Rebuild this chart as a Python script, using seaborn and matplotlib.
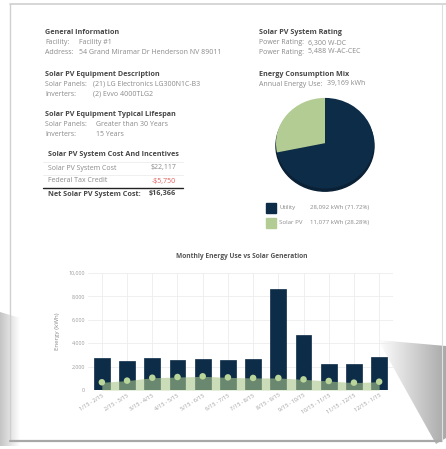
import matplotlib
matplotlib.use("Agg")

import matplotlib.pyplot as plt
import numpy as np
import seaborn as sns
from matplotlib.patches import Polygon, Rectangle, Ellipse

NAVY = "#0d2c47"
GREEN = "#b3cc93"
AREA_GREEN = "#a9c78a"
DOT_GREEN = "#b9d59a"
HEAD = "#474747"
BODY = "#8a8a8a"
RED = "#e06060"
FONT = ["Open Sans", "DejaVu Sans"]

# chart data
months = ["1/15 - 2/15", "2/15 - 3/15", "3/15 - 4/15", "4/15 - 5/15", "5/15 - 6/15",
          "6/15 - 7/15", "7/15 - 8/15", "8/15 - 9/15", "9/15 - 10/15", "10/15 - 11/15",
          "11/15 - 12/15", "12/15 - 1/15"]
energy_use = [2710, 2500, 2710, 2590, 2680, 2590, 2680, 8600, 4730, 2200, 2200, 2800]
solar_gen = [660, 800, 1050, 1110, 1170, 1080, 1030, 1030, 910, 770, 630, 710]
y_ticks = [0, 2000, 4000, 6000, 8000, 10000]

mix_labels = ["Utility", "Solar PV"]
mix_values = [28092, 11077]
mix_text = ["28,092 kWh (71.72%)", "11,077 kWh (28.28%)"]

W, H = 446, 449

sns.set_theme(style="whitegrid")
plt.rcParams["font.family"] = FONT

fig = plt.figure(figsize=(W / 100, H / 100), dpi=100)
fig.patch.set_facecolor("white")

# page overlay in pixel coords
page = fig.add_axes([0, 0, 1, 1], zorder=0)
page.set_xlim(0, W)
page.set_ylim(H, 0)
page.axis("off")


def gradient_poly(ax, verts, dark, light, reverse=False, z=1):
    poly = Polygon(verts, closed=True, facecolor="none", edgecolor="none")
    ax.add_patch(poly)
    xs = [v[0] for v in verts]
    ys = [v[1] for v in verts]
    g = np.linspace(0, 1, 200)
    if reverse:
        g = g[::-1]
    img = g[None, :]
    d = np.array(matplotlib.colors.to_rgb(dark))
    l = np.array(matplotlib.colors.to_rgb(light))
    rgb = l[None, None, :] * (1 - img[..., None]) + d[None, None, :] * img[..., None]
    im = ax.imshow(rgb, extent=(min(xs), max(xs), max(ys), min(ys)),
                   aspect="auto", zorder=z, interpolation="bilinear")
    im.set_clip_path(poly)


# shadow wings behind the chart
gradient_poly(page, [(0, 312), (20, 318), (20, 446), (0, 446)],
              "#c4c4c4", "#ffffff", reverse=True, z=1)
gradient_poly(page, [(378, 340), (446, 346), (446, 438), (436, 444)],
              "#a9a9a9", "#ffffff", z=1)

# card edges
page.plot([10, 446], [4, 4], color="#cfcfcf", lw=1.2, zorder=2)
page.plot([10, 10], [4, 441], color="#d0d0d0", lw=1.0, zorder=2)
page.plot([10, 442], [441, 441], color="#a8a8a8", lw=1.6, zorder=2)
page.plot([442, 442], [4, 441], color="#dedede", lw=0.8, zorder=2)


def txt(x, y, s, bold=False, color=BODY, size=5.05, ha="left"):
    page.text(x, y, s, ha=ha, va="center", fontsize=size, color=color,
              fontweight="bold" if bold else "normal", family=FONT, zorder=5)


# left column
txt(45, 33, "General Information", bold=True, color=HEAD, size=5.2)
txt(45, 42, "Facility:")
txt(79, 42, "Facility #1")
txt(45, 52, "Address:")
txt(79, 52, "54 Grand Miramar Dr Henderson NV 89011")

txt(45, 74, "Solar PV Equipment Description", bold=True, color=HEAD, size=5.2)
txt(45, 84, "Solar Panels:")
txt(93, 84, "(21) LG Electronics LG300N1C-B3")
txt(45, 94, "Inverters:")
txt(93, 94, "(2) Evvo 4000TLG2")

txt(45, 115, "Solar PV Equipment Typical Lifespan", bold=True, color=HEAD, size=5.2)
txt(45, 125, "Solar Panels:")
txt(96, 125, "Greater than 30 Years")
txt(45, 135, "Inverters:")
txt(96, 135, "15 Years")

txt(48, 155, "Solar PV System Cost And Incentives", bold=True, color=HEAD, size=5.2)
txt(48, 168, "Solar PV System Cost")
txt(176, 168, "$22,117", ha="right")
txt(48, 181, "Federal Tax Credit")
txt(176, 181, "-$5,750", color=RED, ha="right")
page.plot([43, 183], [161.5, 161.5], color="#ececec", lw=0.6, zorder=4)
page.plot([43, 183], [174.5, 174.5], color="#ececec", lw=0.6, zorder=4)
page.plot([43, 183], [187.5, 187.5], color="#222222", lw=1.0, zorder=4)
txt(48, 194, "Net Solar PV System Cost:", bold=True, color=HEAD, size=5.2)
txt(176, 194, "$16,366", bold=True, color=HEAD, ha="right", size=5.2)

# right column
txt(259, 33, "Solar PV System Rating", bold=True, color=HEAD, size=5.2)
txt(259, 43, "Power Rating:")
txt(308, 43, "6,300 W-DC")
txt(259, 52, "Power Rating:")
txt(308, 52, "5,488 W-AC-CEC")
txt(259, 74, "Energy Consumption Mix", bold=True, color=HEAD, size=5.2)
txt(259, 84, "Annual Energy Use:")
txt(327, 84, "39,169 kWh")

# legend for the pie
for i, (lab, val) in enumerate(zip(mix_labels, mix_text)):
    yc = 208 + i * 14.5
    page.add_patch(Rectangle((266, yc - 5), 10, 10, color=[NAVY, GREEN][i], zorder=5))
    txt(279, yc, lab, size=4.4)
    txt(310, yc, val, size=4.4)

# pie
pie_ax = fig.add_axes([275 / W, 1 - 193 / H, 100 / W, 96 / H], zorder=3)
pie_ax.add_patch(Ellipse((0, -0.06), 2.0, 2.0, color="#0a2035", zorder=0))
pie_ax.pie(mix_values, colors=[NAVY, GREEN], startangle=90, counterclock=False,
           wedgeprops=dict(linewidth=0))
pie_ax.set_aspect("auto")
pie_ax.set_xlim(-1.02, 1.02)
pie_ax.set_ylim(-1.1, 1.02)
pie_ax.axis("off")

# bar chart
ax = fig.add_axes([88 / W, 1 - 390 / H, (393 - 88) / W, (390 - 273) / H], zorder=3)
ax.set_facecolor("none")
x = np.arange(len(months))
sns.barplot(x=months, y=energy_use, color=NAVY, saturation=1, width=0.63,
            edgecolor=NAVY, linewidth=0.5, ax=ax, zorder=2)
ax.fill_between(x, solar_gen, 0, color=AREA_GREEN, alpha=0.6, lw=0, zorder=3)
sns.scatterplot(x=x, y=solar_gen, color=DOT_GREEN, s=22, edgecolor="none",
                ax=ax, zorder=4)
ax.set_xlim(-0.55, len(months) - 0.45)
ax.set_ylim(0, 10000)
ax.set_yticks(y_ticks)
ax.set_yticklabels([f"{v:,}" for v in y_ticks])
ax.set_xticks(x)
ax.set_xticklabels(months, rotation=32, ha="right", rotation_mode="anchor")
ax.tick_params(axis="both", labelsize=3.9, labelcolor="#9a9a9a", length=0, pad=2)
ax.grid(True, color="#ececec", lw=0.6)
ax.set_axisbelow(True)
for s in ax.spines.values():
    s.set_visible(False)
ax.set_ylabel("Energy (kWh)", fontsize=4.4, color="#8a8a8a", labelpad=6)
ax.set_xlabel("")

txt(242, 257, "Monthly Energy Use vs Solar Generation", bold=True, color="#555555", size=4.8, ha="center")

fig.savefig("out.png", dpi=100)
